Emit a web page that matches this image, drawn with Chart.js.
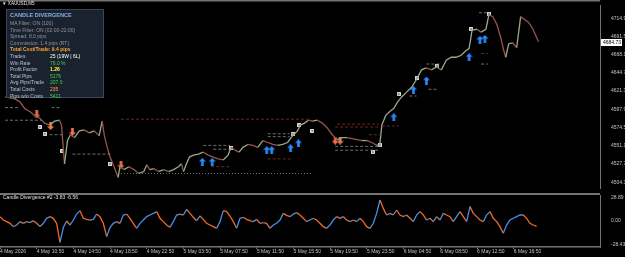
<!DOCTYPE html>
<html>
<head>
<meta charset="utf-8">
<script src="https://cdn.jsdelivr.net/npm/chart.js@4/dist/chart.umd.min.js"></script>
<style>
  body { margin: 0; background: #000; width: 625px; height: 257px; overflow: hidden; position: relative;
         font-family: "Liberation Sans", Arial, sans-serif; }
  canvas { position: absolute; left: 0; }
  #main { top: 0; }
  #ind { top: 193px; }
  #sym { position: absolute; left: 2px; top: 1px; font-size: 4.6px; line-height: 6px; color: #e6e6e6; }
  #panel { position: absolute; left: 6px; top: 9px; width: 90px; height: 84px; padding: 2px 3px 1px 3px;
           background: #1a2230; border: 1px solid #3a4658; }
  #panel div { font-size: 5px; line-height: 6.6px; white-space: nowrap; }
  #panel .ttl { font-weight: bold; font-size: 5.6px; color: #86aee6; margin-bottom: 1.4px; }
  #panel .dim { color: #8e939c; }
  #panel .cost { color: #ffa531; font-weight: bold; }
  #panel .lbl { display: inline-block; width: 40px; color: #b9c0cc; }
  .w { color: #ffffff; } .g { color: #3fd33f; } .y { color: #ffff3c; font-weight: bold; } .o { color: #ffaa33; }
  #indLabel { position: absolute; left: 3px; top: 194px; font-size: 5px; line-height: 6px; color: #e0e0e0; }
</style>
</head>
<body>
<canvas id="main" width="625" height="193"></canvas>
<canvas id="ind" width="625" height="64"></canvas>
<div id="sym">▼ XAUUSD,M5</div>
<div id="panel">
  <div class="ttl">CANDLE DIVERGENCE</div>
  <div class="dim">MA Filter: ON (100)</div>
  <div class="dim">Time Filter: ON (02:00-22:00)</div>
  <div class="dim">Spread: 8.0 pips</div>
  <div class="dim">Commission: 1.4 pips (RT)</div>
  <div class="cost">Total Cost/Trade: 9.4 pips</div>
  <div><span class="lbl">Trades</span><span class="w">25  (19W | 6L)</span></div>
  <div><span class="lbl">Win Rate</span><span class="g">76.0 %</span></div>
  <div><span class="lbl">Profit Factor</span><span class="y">1.26</span></div>
  <div><span class="lbl">Total Pips</span><span class="g">5176</span></div>
  <div><span class="lbl">Avg Pips/Trade</span><span class="g">207.0</span></div>
  <div><span class="lbl">Total Costs</span><span class="o">235</span></div>
  <div><span class="lbl">Pips w/o Costs</span><span class="g">5411</span></div>
</div>
<div id="indLabel">Candle Divergence #2 -3.83 -6.56</div>
<script>
// ── data ─────────────────────────────────────────────
// time axis: hours of chart since first bar
const timeTicks = [0, 4, 8, 12, 16, 20, 24, 28, 32, 36, 40, 44, 48, 52, 56];
const timeLabels = ["4 May 2026", "4 May 10:50", "4 May 14:50", "4 May 18:50", "4 May 22:50",
  "5 May 03:50", "5 May 07:50", "5 May 11:50", "5 May 15:50", "5 May 19:50", "5 May 23:50",
  "6 May 04:50", "6 May 08:50", "6 May 12:50", "6 May 16:50"];

const priceTicks = [4504.30, 4527.70, 4551.10, 4574.50, 4597.90, 4621.30, 4644.70, 4668.10, 4691.50, 4714.90];
const lastPrice = 4684.73;
const indTicks = [-28.43, 0, 28.89];

const priceHours = [0.00, 0.54, 1.09, 1.63, 2.18, 2.72, 3.27, 3.81, 4.36, 4.90, 5.45, 5.99, 6.21, 6.54, 6.87,
  7.19, 7.63, 8.17, 8.72, 9.26, 9.81, 10.35, 10.68, 10.90, 11.23, 11.55, 11.99, 12.43, 12.64, 13.08,
  13.62, 14.17, 14.71, 15.26, 15.59, 15.91, 16.35, 16.89, 17.44, 17.98, 18.53, 19.07, 19.40, 19.62,
  19.95, 20.27, 20.71, 21.25, 21.80, 22.34, 22.89, 23.43, 23.98, 24.52, 24.85, 25.29, 25.72, 26.16,
  26.70, 27.25, 27.79, 28.34, 28.88, 29.43, 29.97, 30.52, 31.06, 31.61, 32.15, 32.48, 32.92, 33.35,
  33.79, 34.33, 34.88, 35.42, 35.97, 36.51, 37.06, 37.60, 38.15, 38.69, 39.24, 39.78, 40.33, 40.87,
  41.20, 41.42, 41.85, 42.29, 42.72, 43.16, 43.60, 44.14, 44.69, 45.23, 45.78, 46.32, 46.87, 47.41,
  47.96, 48.50, 49.05, 49.59, 50.14, 50.68, 51.01, 51.34, 51.88, 52.32, 52.86, 53.19, 53.62, 54.06,
  54.50, 54.82, 55.04, 55.37, 55.80, 56.24, 56.68, 57.11, 57.55, 57.98, 58.31, 58.64];
const priceClose = [4613.8, 4612.5, 4611.3, 4607.5, 4598.8, 4595.1, 4590.1, 4586.4, 4580.2, 4577.7, 4582.7,
  4583.9, 4577.7, 4527.9, 4557.8, 4565.3, 4561.5, 4570.2, 4571.5, 4567.7, 4570.2, 4564.0, 4582.7,
  4565.3, 4549.1, 4536.6, 4524.2, 4510.5, 4524.2, 4520.5, 4524.2, 4520.5, 4515.5, 4518.0, 4526.7,
  4520.5, 4521.7, 4518.0, 4520.5, 4518.0, 4520.5, 4524.2, 4527.9, 4518.0, 4527.9, 4536.6, 4539.1,
  4540.4, 4542.9, 4539.1, 4536.6, 4534.2, 4532.9, 4539.1, 4549.1, 4545.4, 4542.9, 4549.1, 4552.8,
  4551.6, 4549.1, 4557.8, 4555.3, 4552.8, 4551.6, 4552.8, 4555.3, 4564.0, 4570.2, 4577.7, 4580.2,
  4583.9, 4582.7, 4583.9, 4580.2, 4574.0, 4565.3, 4559.0, 4561.5, 4561.5, 4560.3, 4559.0, 4557.8,
  4557.8, 4555.3, 4551.6, 4552.8, 4577.7, 4590.1, 4595.1, 4598.8, 4607.5, 4613.8, 4620.0, 4626.2,
  4636.2, 4648.6, 4651.1, 4648.6, 4652.3, 4648.6, 4661.0, 4664.8, 4664.8, 4667.3, 4673.5, 4676.0,
  4699.6, 4700.8, 4697.1, 4700.8, 4719.5, 4717.0, 4707.1, 4689.6, 4673.5, 4664.8, 4682.2, 4683.4,
  4677.2, 4717.0, 4713.3, 4709.5, 4702.1, 4693.4, 4684.7];

// indicator samples, evenly spaced in time
const indStepHours = 0.3633;
const indValues = [5.3, 1.2, -0.8, -2.8, -6.9, -4.9, -0.8, -2.8, -0.8, -2.0,
  0.4, -2.8, -6.9, -2.8, 3.3, 5.3, 3.3, -3.0, -26.0, -8.0,
  0.0, -4.9, 1.2, 8.5, 12.6, 3.3, 2.0, 1.2, 2.0, 8.5,
  5.3, -2.8, -19.0, -8.0, -2.8, -0.8, -2.8, 7.3, 8.5, 3.3,
  -2.8, -8.9, -2.8, 1.2, 5.3, 7.3, 9.3, 11.4, 3.3, -0.8,
  -4.9, -7.7, -0.8, 7.3, 8.5, 7.3, 14.2, 9.3, 4.5, 0.4,
  6.1, 2.0, -2.8, -4.9, -6.9, -8.9, -0.8, 12.6, 11.4, 6.1,
  -0.8, -8.9, 3.3, 4.5, 2.0, 0.4, -0.8, 2.0, -2.8, -2.0,
  -2.8, -8.9, -4.9, -2.8, 1.2, 9.3, 6.9, 5.3, 8.5, 10.2,
  7.3, 3.3, -0.8, 1.2, 3.3, 1.2, -2.8, -6.9, -8.9, -4.9,
  1.2, 5.3, 3.3, 5.3, 1.2, -0.8, 1.2, -0.8, 3.3, -0.8,
  -6.9, -8.9, -2.8, 9.3, 25.6, 15.4, 7.3, 9.3, 7.3, 13.4,
  7.3, 5.3, 7.3, 3.3, -0.8, 7.3, 11.4, 7.3, 1.2, 3.3,
  -0.8, 5.3, 1.2, 9.3, 7.3, 5.3, -0.8, 5.3, 11.4, 5.3,
  -0.8, 17.5, 9.3, 5.3, 1.2, -0.8, 7.3, 11.4, 3.3, -0.8,
  -6.9, -15.0, -4.9, 1.2, 3.3, 5.3, 7.3, 7.3, 3.3, -2.8,
  -4.9, -6.6];

// trade signals
const buyHours = [21.69, 22.78, 28.77, 29.32, 31.39, 32.26, 42.73, 44.90, 46.32, 51.01, 52.21, 52.75];
const buyPrices = [4530.4, 4530.4, 4545.4, 4545.4, 4547.8, 4554.1, 4587.6, 4622.5, 4634.9, 4664.8, 4687.2, 4688.4];
const sellHours = [3.49, 5.01, 7.41, 12.75, 36.29, 36.84];
const sellPrices = [4591.4, 4576.5, 4569.0, 4526.7, 4557.8, 4557.8];
const exitHours = [3.81, 4.36, 6.32, 11.55, 24.85, 31.61, 32.37, 33.79, 40.44, 41.20, 43.27, 45.34, 47.52, 51.23, 53.19];
const exitPrices = [4575.2, 4566.5, 4544.1, 4527.9, 4547.8, 4566.5, 4577.7, 4570.2, 4542.9, 4551.6, 4617.5, 4638.6, 4653.6, 4700.8, 4720.7];

// stop / target levels
const levelFrom = [0.00, 5.12, 0.00, 4.90, 7.41, 12.75, 12.75, 21.80, 22.89, 22.67, 28.88, 28.88, 28.88,
  36.51, 36.29, 36.29, 36.29, 40.00, 41.42, 44.47, 46.54, 46.32, 52.32, 52.32, 52.10];
const levelTo = [1.63, 5.99, 4.03, 6.32, 11.66, 33.46, 33.79, 24.74, 24.74, 24.74, 31.28, 31.28, 31.61,
  41.09, 41.09, 41.09, 41.09, 41.42, 43.27, 45.23, 47.63, 47.74, 53.08, 53.08, 53.08];
const levelPrice = [4600.1, 4600.1, 4583.9, 4565.3, 4540.4, 4585.2, 4515.5, 4551.6, 4546.6, 4524.2, 4566.5,
  4562.8, 4534.2, 4578.9, 4575.2, 4550.3, 4545.4, 4565.3, 4576.5, 4615.0, 4623.7, 4656.1, 4669.7, 4656.1, 4722.0];
const levelKind = ["tp", "tp", "tp", "tp", "tp", "sl", "dot", "tp", "tp", "sl", "tp", "tp", "sl",
  "sl", "sl", "tp", "tp", "sl", "sl", "tp", "tp", "tp", "sl", "tp", "tp"];

// ── styling helpers ──────────────────────────────────
Chart.defaults.font.family = '"Liberation Sans", Arial, sans-serif';
Chart.defaults.font.size = 5;
Chart.defaults.color = "#c4c4c4";

const AXIS_GRAY = "#747474";
const xMaxHours = 65.4;

function arrowIcon(color, up) {
  const c = document.createElement("canvas");
  c.width = 7; c.height = 8;
  const g = c.getContext("2d");
  g.fillStyle = color;
  g.beginPath();
  const pts = [[3.5, 0], [7, 3.6], [4.8, 3.6], [4.8, 8], [2.2, 8], [2.2, 3.6], [0, 3.6]];
  pts.forEach(([px, py], i) => {
    const yy = up ? py : 8 - py;
    i ? g.lineTo(px, yy) : g.moveTo(px, yy);
  });
  g.closePath();
  g.fill();
  return c;
}

function exitIcon() {
  const c = document.createElement("canvas");
  c.width = 4; c.height = 4;
  const g = c.getContext("2d");
  g.fillStyle = "#dcdcdc";
  g.fillRect(0, 0, 4, 4);
  g.strokeStyle = "#666";
  g.lineWidth = 0.7;
  g.beginPath();
  g.moveTo(0.8, 0.8); g.lineTo(3.2, 3.2);
  g.moveTo(3.2, 0.8); g.lineTo(0.8, 3.2);
  g.stroke();
  return c;
}

const zip = (xs, ys) => xs.map((x, i) => ({ x, y: ys[i] }));

const levelSets = levelPrice.map((p, i) => ({
  data: [{ x: levelFrom[i], y: p }, { x: levelTo[i], y: p }],
  borderColor: levelKind[i] === "sl" ? "#8e2b2b" : "#8a8a8a",
  borderWidth: 0.8,
  borderDash: levelKind[i] === "dot" ? [1, 2] : [3, 2],
  pointRadius: 0,
}));

function markerSet(xs, ys, icon) {
  return {
    type: "scatter",
    data: zip(xs, ys),
    pointStyle: icon,
    pointRadius: 4,
    showLine: false,
  };
}

// ── main price chart ─────────────────────────────────
const mainFrame = {
  id: "mainFrame",
  afterDraw(chart) {
    const { ctx, chartArea } = chart;
    const y = chart.scales.y.getPixelForValue(lastPrice);
    ctx.save();
    ctx.strokeStyle = AXIS_GRAY;
    ctx.lineWidth = 1.5;
    ctx.beginPath();
    ctx.moveTo(0, 0.75);
    ctx.lineTo(chartArea.right, 0.75);
    ctx.stroke();
    ctx.fillStyle = "#ffffff";
    ctx.fillRect(chartArea.right + 1, Math.round(y) - 3, 21, 7);
    ctx.fillStyle = "#000";
    ctx.font = '5px "Liberation Sans", Arial, sans-serif';
    ctx.textBaseline = "middle";
    ctx.fillText(lastPrice.toFixed(2), chartArea.right + 3, Math.round(y) + 0.5);
    ctx.restore();
  },
};

new Chart(document.getElementById("main"), {
  type: "line",
  data: {
    datasets: [
      ...levelSets,
      {
        data: zip(priceHours, priceClose),
        borderWidth: 1.3,
        pointRadius: 0,
        segment: {
          borderColor: (c) => (c.p1.parsed.y >= c.p0.parsed.y ? "#9aa88c" : "#93574f"),
        },
      },
      markerSet(exitHours, exitPrices, exitIcon()),
      markerSet(buyHours, buyPrices, arrowIcon("#2a8cff", true)),
      markerSet(sellHours, sellPrices, arrowIcon("#f7784a", false)),
    ],
  },
  options: {
    responsive: false,
    animation: false,
    devicePixelRatio: 1,
    layout: { padding: { top: 3, bottom: 1, left: 0, right: 0 } },
    plugins: { legend: { display: false }, tooltip: { enabled: false } },
    scales: {
      x: { type: "linear", min: 0, max: xMaxHours, display: false },
      y: {
        position: "right",
        min: 4496.84,
        max: 4731.94,
        grid: { display: false },
        border: { color: AXIS_GRAY, width: 1 },
        ticks: { padding: 3, callback: (v) => v.toFixed(2) },
        afterBuildTicks: (s) => { s.ticks = priceTicks.map((v) => ({ value: v })); },
        afterFit: (s) => { s.width = 25; s.paddingTop = 0; s.paddingBottom = 0; },
      },
    },
  },
  plugins: [mainFrame],
});

// ── indicator panel ──────────────────────────────────
const indFrame = {
  id: "indFrame",
  afterDraw(chart) {
    const { ctx, chartArea } = chart;
    ctx.save();
    ctx.strokeStyle = AXIS_GRAY;
    ctx.lineWidth = 2;
    ctx.beginPath();
    ctx.moveTo(0, 1);
    ctx.lineTo(chartArea.right, 1);
    ctx.stroke();
    ctx.restore();
  },
};

new Chart(document.getElementById("ind"), {
  type: "line",
  data: {
    datasets: [
      {
        data: indValues.map((v, i) => ({ x: i * indStepHours, y: v })),
        borderWidth: 1.3,
        pointRadius: 0,
        segment: {
          borderColor: (c) => (c.p1.parsed.y >= c.p0.parsed.y ? "#4a8ee4" : "#f06a26"),
        },
      },
    ],
  },
  options: {
    responsive: false,
    animation: false,
    devicePixelRatio: 1,
    layout: { padding: { top: 2, bottom: 0, left: 0, right: 0 } },
    plugins: { legend: { display: false }, tooltip: { enabled: false } },
    scales: {
      x: {
        type: "linear",
        min: 0,
        max: xMaxHours,
        grid: { drawOnChartArea: false, drawTicks: true, tickLength: 2, color: AXIS_GRAY },
        border: { color: AXIS_GRAY, width: 1.5 },
        ticks: {
          align: "start",
          padding: 0,
          autoSkip: false,
          maxRotation: 0,
          callback: (v) => timeLabels[timeTicks.indexOf(v)],
        },
        afterBuildTicks: (s) => { s.ticks = timeTicks.map((v) => ({ value: v })); },
        afterFit: (s) => { s.height = 10; s.paddingLeft = 0; s.paddingRight = 0; },
      },
      y: {
        position: "right",
        min: -31.7,
        max: 31.7,
        grid: { display: false },
        border: { color: AXIS_GRAY, width: 1 },
        ticks: { padding: 3, callback: (v) => v.toFixed(2) },
        afterBuildTicks: (s) => { s.ticks = indTicks.map((v) => ({ value: v })); },
        afterFit: (s) => { s.width = 25; s.paddingTop = 0; s.paddingBottom = 0; },
      },
    },
  },
  plugins: [indFrame],
});
</script>
</body>
</html>
